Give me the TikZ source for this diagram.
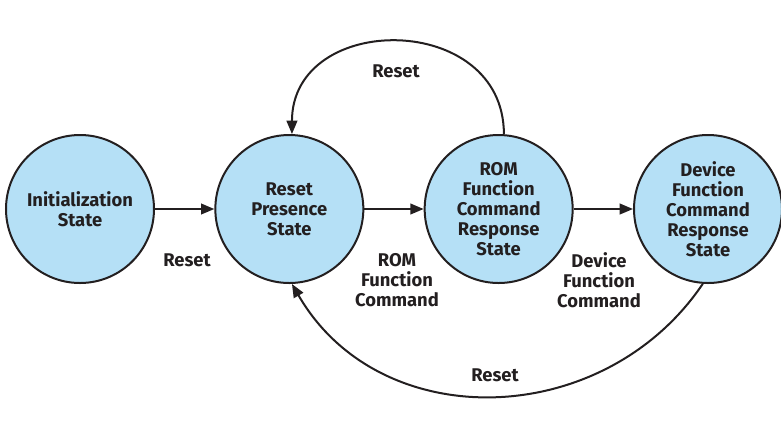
\documentclass[tikz,border=0pt]{standalone}
\usepackage{fontspec}
\setmainfont{Fira Sans}
\usetikzlibrary{positioning,arrows.meta}
\definecolor{statefill}{HTML}{B5E0F6}
\definecolor{inkgray}{HTML}{231F20}

\begin{document}
\begin{tikzpicture}[x=0.75pt,y=-0.75pt,node distance=44.5pt,
 state/.style={circle,draw=inkgray,line width=1.5pt,fill=statefill,minimum size=111pt,
 inner sep=0pt,align=center,text=inkgray,font=\fontsize{13.8}{15}\selectfont\bfseries},
 lbl/.style={align=center,text=inkgray,font=\fontsize{13.8}{15}\selectfont\bfseries},
 arr/.style={-{Triangle[length=10pt,width=8pt]},line width=1.5pt,draw=inkgray}]
\useasboundingbox (0,0) rectangle (781,437);
\node[state] (init) at (80,209) {Initialization\\State};
\node[state,right=of init] (rps) {Reset\\Presence\\State};
\node[state,right=of rps] (rom) {ROM\\Function\\Command\\Response\\State};
\node[state,right=of rom] (dev) {Device\\Function\\Command\\Response\\State};
\draw[arr] (init)--(rps); \draw[arr] (rps)--(rom);
\draw[arr] (rom)--(dev);
\draw[arr] (rom.86) .. controls +(0,-123) and +(0,-123) .. (rps.88);
\draw[arr] (dev.-94) to[out=-124,in=-60,looseness=1.1] (rps.-88);
% labels
\node[lbl] (rst1) at (187,260) {Reset};
\node[lbl] (romcmd) at (397,280) {ROM\\Function\\Command};
\node[lbl] (devcmd) at (599,280) {Device\\Function\\Command};
\node[lbl] (rst2) at (396,71) {Reset};
\node[lbl] (rst3) at (495,375) {Reset};
\end{tikzpicture}
\end{document}
